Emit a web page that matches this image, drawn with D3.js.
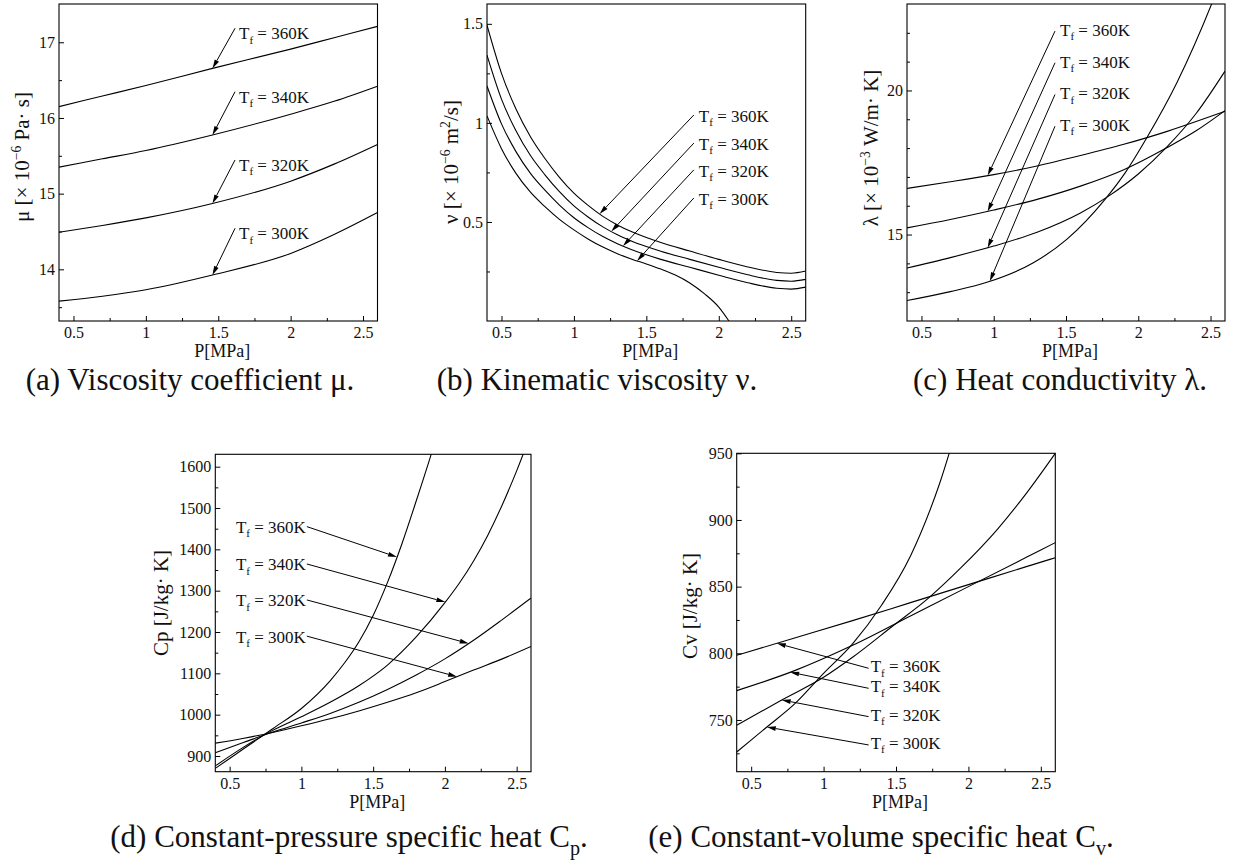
<!DOCTYPE html>
<html>
<head>
<meta charset="utf-8">
<script src="https://cdn.jsdelivr.net/npm/d3@7"></script>
<style>
  body { margin: 0; background: #fff; }
  svg { display: block; font-family: "Liberation Serif", "Times New Roman", serif; }
</style>
</head>
<body>
<script>
// ---- data ----
const temps = ['360K', '340K', '320K', '300K'];
const xMajor = [0.5, 1, 1.5, 2, 2.5];
const xMinor = [0.75, 1.25, 1.75, 2.25];

// (a) viscosity coefficient mu [1e-6 Pa s]
const muP = [0.4, 0.7, 1.0, 1.46, 2.0, 2.3, 2.6];
const mu360 = [16.15, 16.29, 16.43, 16.655, 16.91, 17.06, 17.21];
const mu340 = [15.35, 15.46, 15.57, 15.775, 16.05, 16.22, 16.42];
const mu320 = [14.49, 14.58, 14.68, 14.87, 15.165, 15.39, 15.65];
const mu300 = [13.58, 13.645, 13.73, 13.925, 14.21, 14.46, 14.75];
const muTicks = [14, 15, 16, 17];
const muMinor = [13.5, 14.5, 15.5, 16.5];
const muTail = [[1.616, 17.185], [1.616, 16.347], [1.616, 15.445], [1.616, 14.542]];
const muHeadP = [1.46, 1.46, 1.46, 1.46];

// (b) kinematic viscosity nu [1e-6 m2/s]
const nuP = [0.4, 0.5, 0.6, 0.7, 0.8, 0.9, 1.0, 1.1, 1.2, 1.3, 1.4, 1.5, 1.6, 1.8, 2.0, 2.2, 2.4, 2.5, 2.6];
const nu360 = [1.493, 1.25, 1.07, 0.93, 0.82, 0.725, 0.645, 0.582, 0.528, 0.485, 0.45, 0.421, 0.396, 0.353, 0.311, 0.273, 0.245, 0.241, 0.252];
const nu340 = [1.342, 1.12, 0.96, 0.835, 0.738, 0.653, 0.581, 0.524, 0.475, 0.435, 0.403, 0.376, 0.352, 0.311, 0.271, 0.233, 0.205, 0.201, 0.21];
const nu320 = [1.186, 0.995, 0.855, 0.745, 0.66, 0.585, 0.521, 0.47, 0.426, 0.39, 0.36, 0.334, 0.311, 0.271, 0.231, 0.193, 0.165, 0.161, 0.171];
const nu300P = [0.4, 0.5, 0.6, 0.7, 0.8, 0.9, 1.0, 1.1, 1.2, 1.3, 1.4, 1.5, 1.6, 1.7, 1.8, 1.9, 2.0, 2.07, 2.12];
const nu300 = [1.035, 0.87, 0.745, 0.65, 0.577, 0.513, 0.46, 0.413, 0.373, 0.34, 0.312, 0.288, 0.262, 0.232, 0.192, 0.138, 0.07, 0.0, -0.055];
const nuTicks = [0.5, 1, 1.5];
const nuMinor = [0.25, 0.75, 1.25];
const nuTail = [[1.828, 1.040], [1.828, 0.898], [1.828, 0.763], [1.828, 0.621]];
const nuHeadP = [1.177, 1.258, 1.339, 1.436];

// (c) heat conductivity lambda [1e-3 W/m K]
const lamP = [0.4, 0.7, 1.0, 1.3, 1.6, 1.9, 2.2, 2.4, 2.6];
const lam360 = [16.60, 16.83, 17.08, 17.38, 17.74, 18.13, 18.58, 18.92, 19.28];
const lam340 = [15.23, 15.52, 15.85, 16.22, 16.68, 17.25, 18.02, 18.6, 19.3];
const lam320P = [0.4, 0.7, 1.0, 1.3, 1.6, 1.8, 2.0, 2.2, 2.4, 2.6];
const lam320 = [13.84, 14.2, 14.6, 15.08, 15.75, 16.35, 17.1, 18.05, 19.2, 20.67];
const lam300P = [0.4, 0.7, 0.958, 1.274, 1.505, 1.77, 1.909, 2.059, 2.267, 2.509, 2.6];
const lam300 = [12.71, 13.02, 13.35, 14.02, 14.83, 16.22, 17.14, 18.36, 20.27, 23.02, 24.2];
const lamTicks = [15, 20];
const lamMinor = [13, 14, 16, 17, 18, 19, 21, 22];
const lamTail = [[1.424, 22.06], [1.424, 20.96], [1.424, 19.86], [1.424, 18.76]];
const lamHeadP = [0.958, 0.958, 0.958, 0.973];

// (d) constant-pressure specific heat Cp [J/kg K]
const cp360P = [0.4, 0.6, 0.8, 1.0, 1.2, 1.3, 1.4, 1.5, 1.6, 1.7, 1.8, 1.9, 2.0];
const cp360 = [870, 918, 966, 1015, 1082, 1125, 1176, 1240, 1320, 1413, 1517, 1625, 1740];
const cp340P = [0.4, 0.6, 0.8, 1.0, 1.2, 1.4, 1.6, 1.8, 2.0, 2.1, 2.2, 2.3, 2.4, 2.5, 2.6];
const cp340 = [876, 922, 962, 995, 1030, 1070, 1120, 1188, 1271, 1318, 1372, 1435, 1508, 1590, 1680];
const cpP = [0.4, 0.6, 0.8, 1.0, 1.2, 1.4, 1.6, 1.8, 2.0, 2.2, 2.4, 2.6];
const cp320 = [908, 933, 958, 980, 1003, 1030, 1061, 1096, 1135, 1180, 1230, 1282];
const cp300 = [931, 943, 957, 973, 990, 1009, 1030, 1053, 1080, 1108, 1135, 1165];
const cpTicks = [900, 1000, 1100, 1200, 1300, 1400, 1500, 1600];
const cpMinor = [950, 1050, 1150, 1250, 1350, 1450, 1550];
const cpTail = [[1.038, 1455], [1.038, 1364.6], [1.038, 1277.6], [1.038, 1190]];
const cpHeadP = [1.666, 2.003, 2.166, 2.085];

// (e) constant-volume specific heat Cv [J/kg K]
const cvP = [0.4, 0.8, 1.2, 1.6, 2.0, 2.4, 2.6];
const cv360 = [798.5, 811.5, 824.5, 838, 851.5, 865, 871.7];
const cv340 = [772, 787, 806, 828, 850, 872, 883];
const cv320P = [0.4, 0.711, 1.0, 1.2, 1.484, 1.72, 1.947, 2.2, 2.4, 2.6];
const cv320 = [746, 765, 782, 797, 821, 841, 864, 893, 920, 950];
const cv300P = [0.4, 0.6, 0.8, 1.0, 1.2, 1.4, 1.6, 1.8, 2.0];
const cv300 = [726, 744, 762, 785, 807, 836, 873, 927, 1000];
const cvTicks = [750, 800, 850, 900, 950];
const cvMinor = [725, 775, 825, 875, 925];
const cvTail = [[1.311, 788.75], [1.311, 773.75], [1.311, 752.5], [1.311, 731.25]];
const cvHeadP = [0.677, 0.769, 0.711, 0.608];

// ---- layout ----
const W = 1233, H = 865;
const FONT = '"Liberation Serif", "Times New Roman", serif';

const panels = [
  {key: 'a', x0: 59, x1: 377.5, y0: 4, y1: 321, yDom: [13.317, 17.506], yTicks: muTicks, yMinor: muMinor,
   series: [[muP, mu360], [muP, mu340], [muP, mu320], [muP, mu300]], tails: muTail, heads: muHeadP,
   lab: {dx: 4, dy: 11, anchor: 'start'},
   ylab: {x: 29, y: 157, parts: [['μ [× 10', 0], ['−6', 1], [' Pa· s]', 0]]},
   xlabY: 357, cap: {x: 190, y: 390, parts: [['(a) Viscosity coefficient μ.', 0]]}},
  {key: 'b', x0: 487, x1: 805.7, y0: 4, y1: 321, yDom: [0, 1.6], yTicks: nuTicks, yMinor: nuMinor,
   series: [[nuP, nu360], [nuP, nu340], [nuP, nu320], [nu300P, nu300]], tails: nuTail, heads: nuHeadP,
   lab: {dx: 5, dy: 7, anchor: 'start'},
   ylab: {x: 458, y: 162, parts: [['ν [× 10', 0], ['−6', 1], [' m', 0], ['2', 1], ['/s]', 0]]},
   xlabY: 357, cap: {x: 597, y: 390, parts: [['(b) Kinematic viscosity ν.', 0]]}},
  {key: 'c', x0: 907, x1: 1225, y0: 4, y1: 321, yDom: [12, 23], yTicks: lamTicks, yMinor: lamMinor,
   series: [[lamP, lam360], [lamP, lam340], [lam320P, lam320], [lam300P, lam300]], tails: lamTail, heads: lamHeadP,
   lab: {dx: 5, dy: 5, anchor: 'start'},
   ylab: {x: 878, y: 148, parts: [['λ [× 10', 0], ['−3', 1], [' W/m· K]', 0]]},
   xlabY: 357, cap: {x: 1060, y: 390, parts: [['(c) Heat conductivity λ.', 0]]}},
  {key: 'd', x0: 215.3, x1: 531, y0: 454.3, y1: 771.7, yDom: [862, 1630], yTicks: cpTicks, yMinor: cpMinor,
   series: [[cp360P, cp360], [cp340P, cp340], [cpP, cp320], [cpP, cp300]], tails: cpTail, heads: cpHeadP,
   lab: {dx: -1, dy: 6.5, anchor: 'end'},
   ylab: {x: 168, y: 603, parts: [['Cp [J/kg· K]', 0]]},
   xlabY: 808, cap: {x: 349, y: 847, parts: [['(d) Constant-pressure specific heat C', 0], ['p', -1], ['.', 0]]}},
  {key: 'e', x0: 736.7, x1: 1055.3, y0: 453.3, y1: 771.7, yDom: [711.2, 950], yTicks: cvTicks, yMinor: cvMinor,
   series: [[cvP, cv360], [cvP, cv340], [cv320P, cv320], [cv300P, cv300]], tails: cvTail, heads: cvHeadP,
   lab: {dx: 2, dy: 4, anchor: 'start'},
   ylab: {x: 697, y: 606, parts: [['Cv [J/kg· K]', 0]]},
   xlabY: 808, cap: {x: 881, y: 847, parts: [['(e) Constant-volume specific heat C', 0], ['v', -1], ['.', 0]]}}
];

const svg = d3.select('body').append('svg')
  .attr('width', W)
  .attr('height', H)
  .attr('viewBox', `0 0 ${W} ${H}`)
  .attr('font-family', FONT);

// text with super (1) / sub (-1) script pieces
function richText(sel, parts, size) {
  let shift = 0;
  parts.forEach(([txt, kind]) => {
    let target = kind === 1 ? -0.4 * size : kind === -1 ? 0.25 * size : 0;
    sel.append('tspan')
      .attr('dy', target - shift)
      .attr('font-size', kind === 0 ? size : size * 0.65)
      .text(txt);
    shift = target;
  });
}

function drawPanel(p) {
  let g = svg.append('g').attr('class', 'panel-' + p.key);

  let x = d3.scaleLinear().domain([0.4, 2.6]).range([p.x0, p.x1]);
  let y = d3.scaleLinear().domain(p.yDom).range([p.y1, p.y0]);

  g.append('clipPath').attr('id', 'clip-' + p.key)
    .append('rect')
    .attr('x', p.x0).attr('y', p.y0)
    .attr('width', p.x1 - p.x0).attr('height', p.y1 - p.y0);

  // axes, ticks point inward
  let xAxis = g.append('g').attr('transform', `translate(0,${p.y1})`)
    .call(d3.axisBottom(x).tickValues(xMajor).tickSize(-5).tickSizeOuter(0).tickPadding(6).tickFormat(d => String(d)));
  g.append('g').attr('transform', `translate(0,${p.y1})`)
    .call(d3.axisBottom(x).tickValues(xMinor).tickSize(-3).tickSizeOuter(0).tickFormat(''));
  let yAxis = g.append('g').attr('transform', `translate(${p.x0},0)`)
    .call(d3.axisLeft(y).tickValues(p.yTicks).tickSize(-5).tickSizeOuter(0).tickPadding(4).tickFormat(d => String(d)));
  g.append('g').attr('transform', `translate(${p.x0},0)`)
    .call(d3.axisLeft(y).tickValues(p.yMinor).tickSize(-3).tickSizeOuter(0).tickFormat(''));

  g.selectAll('.domain').remove();
  g.selectAll('.tick line').attr('stroke', '#000').attr('stroke-width', 1);
  [xAxis, yAxis].forEach(a => a.attr('font-family', FONT).attr('font-size', 16)
    .selectAll('text').attr('fill', '#111'));

  // frame
  g.append('rect')
    .attr('x', p.x0).attr('y', p.y0)
    .attr('width', p.x1 - p.x0).attr('height', p.y1 - p.y0)
    .attr('fill', 'none').attr('stroke', '#000').attr('stroke-width', 1.1);

  // curves
  let line = d3.line()
    .x(d => x(d[0]))
    .y(d => y(d[1]))
    .curve(d3.curveMonotoneX);

  let curves = g.append('g').attr('clip-path', `url(#clip-${p.key})`);
  p.series.forEach(([ps, vs]) => {
    curves.append('path')
      .datum(ps.map((d, i) => [d, vs[i]]))
      .attr('d', line)
      .attr('fill', 'none')
      .attr('stroke', '#000')
      .attr('stroke-width', 1.1);
  });

  // annotation arrows
  temps.forEach((t, i) => {
    let [ps, vs] = p.series[i];
    let onCurve = d3.scaleLinear().domain(ps).range(vs);
    let hp = p.heads[i];
    let hx = x(hp), hy = y(onCurve(hp));
    let tx = x(p.tails[i][0]), ty = y(p.tails[i][1]);
    let len = Math.hypot(hx - tx, hy - ty);
    let ux = (hx - tx) / len, uy = (hy - ty) / len;
    let L = 9, w = 2.4;
    let bx = hx - ux * L, by = hy - uy * L;
    g.append('line')
      .attr('x1', tx).attr('y1', ty)
      .attr('x2', bx).attr('y2', by)
      .attr('stroke', '#000').attr('stroke-width', 1);
    g.append('path')
      .attr('d', `M${hx},${hy}L${bx - uy * w},${by + ux * w}L${bx + uy * w},${by - ux * w}Z`)
      .attr('fill', '#000');

    let label = g.append('text')
      .attr('x', tx + p.lab.dx)
      .attr('y', ty + p.lab.dy)
      .attr('text-anchor', p.lab.anchor)
      .attr('font-family', FONT)
      .attr('font-size', 17)
      .attr('fill', '#111');
    richText(label, [['T', 0], ['f', -1], [' = ' + t, 0]], 17);
  });

  // axis titles
  let yl = g.append('text')
    .attr('transform', `translate(${p.ylab.x},${p.ylab.y}) rotate(-90)`)
    .attr('text-anchor', 'middle')
    .attr('font-family', FONT)
    .attr('font-size', 21)
    .attr('fill', '#111');
  richText(yl, p.ylab.parts, 21);

  g.append('text')
    .attr('x', (p.x0 + p.x1) / 2 + 4)
    .attr('y', p.xlabY)
    .attr('text-anchor', 'middle')
    .attr('font-family', FONT)
    .attr('font-size', 18)
    .attr('fill', '#111')
    .text('P[MPa]');

  let cap = g.append('text')
    .attr('x', p.cap.x)
    .attr('y', p.cap.y)
    .attr('text-anchor', 'middle')
    .attr('font-family', FONT)
    .attr('font-size', 31)
    .attr('fill', '#111');
  richText(cap, p.cap.parts, 31);
}

panels.forEach(drawPanel);
</script>
</body>
</html>
